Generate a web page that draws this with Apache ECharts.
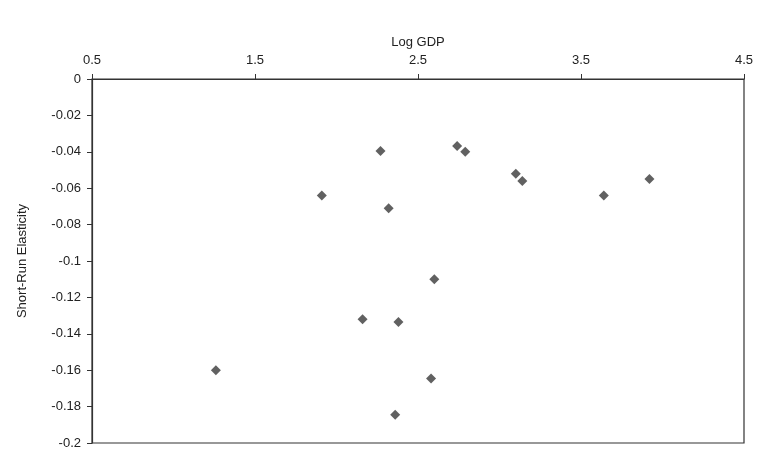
<!DOCTYPE html>
<html>
<head>
<meta charset="utf-8">
<script src="https://cdn.jsdelivr.net/npm/echarts@6/dist/echarts.min.js"></script>
<style>
  html, body { margin: 0; padding: 0; background: #fff; }
  #chart { width: 758px; height: 456px; }
</style>
</head>
<body>
<div id="chart"></div>
<script>
// Short-run elasticity against log GDP
var logGdp = [1.26, 1.91, 2.27, 2.32, 2.74, 2.79, 3.10, 3.14, 3.64, 3.92, 2.60, 2.16, 2.38, 2.58, 2.36];
var elasticity = [-0.160, -0.064, -0.0395, -0.071, -0.0368, -0.040, -0.052, -0.056, -0.064, -0.055, -0.110, -0.132, -0.1335, -0.1645, -0.1845];

var points = logGdp.map(function (x, i) { return [x, elasticity[i]]; });

var chart = echarts.init(document.getElementById('chart'));

var txt = { color: '#222', fontFamily: 'Liberation Sans', fontSize: 13 };

var option = {
    backgroundColor: '#fff',
    animation: false,
    grid: {
        left: 92,
        right: 14,
        top: 79,
        bottom: 13,
        show: true,
        borderColor: '#333',
        borderWidth: 1.2
    },
    xAxis: {
        type: 'value',
        position: 'top',
        min: 0.5,
        max: 4.5,
        interval: 1,
        name: 'Log GDP',
        nameLocation: 'middle',
        nameGap: 20,
        nameTextStyle: txt,
        axisLine: { show: true, onZero: false, lineStyle: { color: '#333', width: 1.2 } },
        axisTick: { show: true, length: 5, lineStyle: { color: '#333' } },
        axisLabel: Object.assign({ margin: 12 }, txt),
        splitLine: { show: false }
    },
    yAxis: {
        type: 'value',
        min: -0.2,
        max: 0,
        interval: 0.02,
        name: 'Short-Run Elasticity',
        nameLocation: 'middle',
        nameGap: 63,
        nameTextStyle: txt,
        axisLine: { show: true, onZero: false, lineStyle: { color: '#333', width: 1.2 } },
        axisTick: { show: true, length: 5, lineStyle: { color: '#333' } },
        axisLabel: Object.assign({ margin: 11 }, txt),
        splitLine: { show: false }
    },
    series: [
        {
            type: 'scatter',
            symbol: 'diamond',
            symbolSize: 10,
            itemStyle: { color: '#3a3a3a' },
            data: points
        }
    ]
};

chart.setOption(option);
</script>
</body>
</html>
